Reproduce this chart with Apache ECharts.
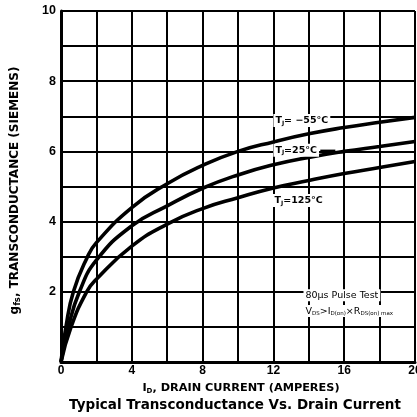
<!DOCTYPE html>
<html>
<head>
<meta charset="utf-8">
<script src="https://cdn.jsdelivr.net/npm/echarts@6/dist/echarts.min.js"></script>
<style>
html,body{margin:0;padding:0;background:#fff;}
#c{width:417px;height:417px;}
</style>
</head>
<body>
<div id="c"></div>
<script>
// Drain current (A) and transconductance (S) for each junction temperature
const idM55 = [0, 0.28, 0.7, 1.5, 2, 4, 6, 8, 10, 12, 14, 16, 18, 20];
const gfsM55 = [0, 1, 2, 3, 3.4, 4.4, 5.08, 5.6, 6.0, 6.27, 6.5, 6.68, 6.83, 6.97];
const id25 = [0, 0.42, 1.04, 2, 4, 6, 8, 10, 12, 14, 16, 18, 20];
const gfs25 = [0, 1, 2, 2.9, 3.88, 4.45, 4.95, 5.33, 5.62, 5.83, 6.0, 6.14, 6.28];
const id125 = [0, 0.57, 1.45, 2, 4, 6, 8, 10, 12, 14, 16, 18, 20];
const gfs125 = [0, 1, 2, 2.36, 3.3, 3.93, 4.37, 4.68, 4.96, 5.17, 5.37, 5.54, 5.71];
const xTickLabels = [0, 4, 8, 12, 16, 20];
const yTickLabels = [2, 4, 6, 8, 10];

const FONT = '"Liberation Sans", Arial, Helvetica, sans-serif';
const WIDE = '"DejaVu Sans", "Liberation Sans", sans-serif';
const zip = (xs, ys) => xs.map((x, i) => [x, ys[i]]);

const chart = echarts.init(document.getElementById('c'), null, {renderer: 'canvas'});

function curve(name, xs, ys) {
  return {
    name: name, type: 'line', data: zip(xs, ys),
    smooth: 0.5, showSymbol: false, symbol: 'none',
    lineStyle: {color: '#000', width: 3.6}, z: 5, clip: false, animation: false
  };
}

chart.setOption({
  animation: false,
  backgroundColor: '#fff',
  title: {
    text: 'Typical Transconductance Vs. Drain Current',
    left: 230, top: 393, textAlign: 'center',
    textStyle: {fontFamily: WIDE, fontWeight: 'bold', fontSize: 13.5, color: '#000'}
  },
  grid: {left: 61, right: 2, top: 11, bottom: 55, containLabel: false, outerBoundsMode: 'none'},
  xAxis: {
    type: 'value', min: 0, max: 20, interval: 2,
    name: '{m|I}{s|D}{m|, DRAIN CURRENT (AMPERES)}',
    nameLocation: 'middle', nameGap: 20,
    nameTextStyle: {
      color: '#000', padding: [0, 0, 0, 6],
      rich: {
        m: {fontFamily: WIDE, fontWeight: 'bold', fontSize: 11.3, color: '#000'},
        s: {fontFamily: WIDE, fontWeight: 'bold', fontSize: 7, color: '#000', verticalAlign: 'bottom', padding: [6, 0, 0, 0]}
      }
    },
    axisLine: {show: true, lineStyle: {color: '#000', width: 3}},
    axisTick: {show: false},
    splitLine: {show: true, lineStyle: {color: '#000', width: 2}},
    axisLabel: {
      margin: 3, color: '#000', fontFamily: FONT, fontWeight: 'bold', fontSize: 12,
      formatter: v => (xTickLabels.indexOf(v) >= 0 ? String(v) : '')
    }
  },
  yAxis: {
    type: 'value', min: 0, max: 10, interval: 1,
    name: '{m|g}{s|fs}{m|, TRANSCONDUCTANCE (SIEMENS)}',
    nameLocation: 'middle', nameGap: 39, nameRotate: 90,
    nameTextStyle: {
      color: '#000', padding: [0, 8, 0, 0],
      rich: {
        m: {fontFamily: WIDE, fontWeight: 'bold', fontSize: 12, color: '#000'},
        s: {fontFamily: WIDE, fontWeight: 'bold', fontSize: 8.5, color: '#000', verticalAlign: 'bottom', padding: [5, 0, 0, 0]}
      }
    },
    axisLine: {show: true, lineStyle: {color: '#000', width: 3}},
    axisTick: {show: false},
    splitLine: {show: true, lineStyle: {color: '#000', width: 2}},
    axisLabel: {
      margin: 5, color: '#000', fontFamily: FONT, fontWeight: 'bold', fontSize: 12.5,
      formatter: v => (yTickLabels.indexOf(v) >= 0 ? String(v) : '')
    }
  },
  series: [
    curve('TJ=-55°C', idM55, gfsM55),
    curve('TJ=25°C', id25, gfs25),
    curve('TJ=125°C', id125, gfs125)
  ]
});

// Annotations (placed in data space, converted to pixels)
const px = (x, y) => chart.convertToPixel({gridIndex: 0}, [x, y]);
const richT = {
  m: {fontFamily: WIDE, fontWeight: 'bold', fontSize: 9.5, fill: '#000'},
  s: {fontFamily: WIDE, fontWeight: 'bold', fontSize: 6, fill: '#000', verticalAlign: 'bottom', padding: [5, 0, 0, 0]}
};
const richN = {
  m: {fontFamily: WIDE, fontSize: 9.5, fill: '#000'},
  s: {fontFamily: WIDE, fontSize: 5.5, fill: '#000', verticalAlign: 'bottom', padding: [4, 0, 0, 0]}
};
function note(x, y, text, rich) {
  const p = px(x, y);
  return {
    type: 'text', x: p[0], y: p[1], z: 10,
    style: {text: text, rich: rich, verticalAlign: 'middle', align: 'left',
            backgroundColor: '#fff', padding: [1, 2, 1, 2]}
  };
}
const dashA = px(14.65, 6.03), dashB = px(15.5, 6.03);
chart.setOption({
  graphic: [
    note(12.0, 6.88, '{m|T}{s|J}{m|= −55°C}', richT),
    note(12.0, 6.03, '{m|T}{s|J}{m|=25°C}', richT),
    {type: 'line', z: 11, shape: {x1: dashA[0], y1: dashA[1], x2: dashB[0], y2: dashB[1]},
     style: {stroke: '#000', lineWidth: 1.5}},
    note(11.95, 4.6, '{m|T}{s|J}{m|=125°C}', richT),
    note(13.7, 1.9, '{m|80µs Pulse Test}', richN),
    note(13.7, 1.45, '{m|V}{s|DS}{m|>I}{s|D(on)}{m|×R}{s|DS(on) max}', richN)
  ]
});
</script>
</body>
</html>
